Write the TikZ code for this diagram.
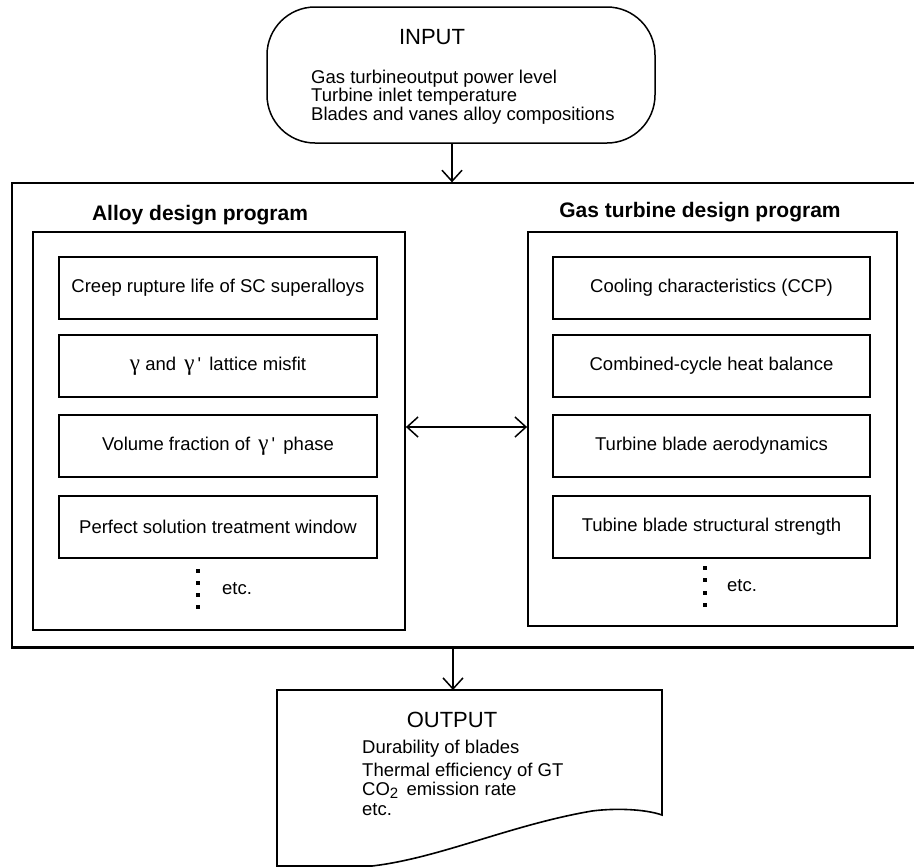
\documentclass[tikz,border=0pt]{standalone}
\usepackage{fontspec}
\setmainfont{Liberation Sans}
\newfontfamily\grk{Liberation Serif}
\newcommand{\gam}{{\grk\fontsize{23}{17}\selectfont γ}}
\usetikzlibrary{arrows.meta}
\begin{document}
\begin{tikzpicture}[x=1pt,y=-1pt,
  every node/.style={font=\fontsize{18.5}{17}\selectfont},
  subbox/.style={draw, line width=1.8pt, minimum width=318pt, minimum height=62pt, inner sep=0pt},
  prog/.style={draw, line width=1.8pt, inner sep=0pt},
  ttl/.style={font=\fontsize{21}{21}\selectfont\bfseries},
  bigttl/.style={font=\fontsize{22}{22}\selectfont},
  arr/.style={line width=1.3pt, -{Straight Barb[length=11pt,width=20pt,line width=1.5pt]}},
  dbl/.style={line width=1.3pt, {Straight Barb[length=11pt,width=20pt,line width=1.5pt]}-{Straight Barb[length=11pt,width=20pt,line width=1.5pt]}},
  dotm/.style={fill, inner sep=0pt, minimum size=3.2pt}
]
\useasboundingbox (0,0) rectangle (914,868);
\clip (0,0) rectangle (914,868);

% INPUT
\node[draw, line width=1.5pt, rounded corners=48pt, minimum width=388pt, minimum height=136pt, inner sep=0pt] (input) at (461,75) {};
\node[bigttl] (inputtitle) at (432,37) {INPUT};
\node[anchor=west, align=left, inner sep=0pt] (inputtext) at (311,97)
  {Gas turbineoutput power level\\Turbine inlet temperature\\Blades and vanes alloy compositions};

% Outer box
\node[draw, line width=1.3pt, minimum width=918pt, minimum height=464pt, inner sep=0pt] (outer) at (471,415) {};
\draw[line width=3pt] (outer.south west) -- (outer.south east);

% Left program
\node[ttl] (lt) at (200,215) {Alloy design program};
\node[prog, minimum width=372pt, minimum height=398pt] (lbox) at (219,431) {};
\node[subbox] (l1) at (218,288) {Creep rupture life of SC superalloys};
\node[subbox] (l2) at (218,366) {\gam\ and\, \gam\,\textquotesingle\, lattice misfit};
\node[subbox] (l3) at (218,446) {Volume fraction of\, \gam\,\textquotesingle\, phase};
\node[subbox] (l4) at (218,527) {Perfect solution treatment window};
\foreach \i/\yy in {1/571,2/583,3/595,4/607} \node[dotm] (ld\i) at (198,\yy) {};
\node[anchor=west, inner sep=0pt] (letc) at (222,589) {etc.};

% Right program
\node[ttl] (rt) at (700,212) {Gas turbine design program};
\node[prog, minimum width=369pt, minimum height=394pt] (rbox) at (712.5,429) {};
\node[subbox, minimum width=317pt] (r1) at (711.5,288) {Cooling characteristics (CCP)};
\node[subbox, minimum width=317pt] (r2) at (711.5,366) {Combined-cycle heat balance};
\node[subbox, minimum width=317pt] (r3) at (711.5,446) {Turbine blade aerodynamics};
\node[subbox, minimum width=317pt] (r4) at (711.5,527) {Tubine blade structural strength};
\foreach \i/\yy in {1/568,2/580,3/593,4/605} \node[dotm] (rd\i) at (705,\yy) {};
\node[anchor=west, inner sep=0pt] (retc) at (727,586) {etc.};

% Double arrow
\coordinate (mid) at (466,427);
\draw[dbl] (lbox.east |- mid) -- (rbox.west |- mid);

% OUTPUT
\coordinate (otl) at (277,690);
\coordinate (otr) at (662,690);
\coordinate (outtop) at (453,690);
\draw[line width=1.6pt, line join=miter]
  (otl) -- (otr) -- (662,815) .. controls (645,809) and (615,808) .. (592,811)
  .. controls (510,825) and (440,858) .. (372,866) -- (277,866) -- cycle;
\node[bigttl] (outtitle) at (452,720) {OUTPUT};
\node[anchor=north west, align=left, inner sep=0pt, font=\fontsize{18.5}{19.5}\selectfont] (outtext) at (362,740)
  {Durability of blades\\[3pt]Thermal efficiency of GT\\CO\raisebox{-3pt}{\fontsize{15}{15}\selectfont 2}\, emission rate\\etc.};

% Connectors
\draw[arr] (input.south -| 452,0) -- (452,0 |- outer.north);
\draw[arr] (outer.south -| outtop) -- (outtop);
\end{tikzpicture}
\end{document}
